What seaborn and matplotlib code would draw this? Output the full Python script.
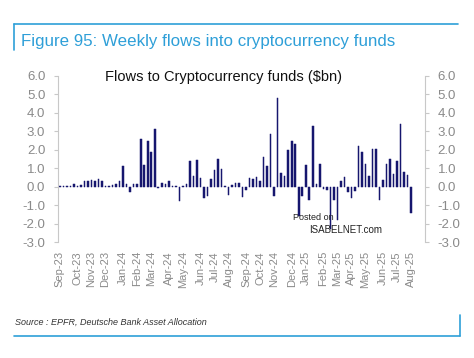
import numpy as np
import pandas as pd
import matplotlib.pyplot as plt
import seaborn as sns
from matplotlib.lines import Line2D

# -----------------------------
# DATA (weekly flows, $bn)
# -----------------------------
flows = [
    0.05, 0.05, 0.05, 0.05, 0.15, 0.05, 0.1, 0.3, 0.3, 0.35,
    0.3, 0.4, 0.3, 0.05, 0.05, 0.1, 0.15, 0.3, 1.1, 0.15,
    -0.3, 0.15, 0.15, 2.6, 1.15, 2.45, 1.85, 3.1, -0.1, 0.2,
    0.15, 0.3, 0.05, 0.05, -0.8, 0.05, 0.15, 1.4, 0.6, 1.45,
    0.45, -0.6, -0.5, 0.4, 0.9, 1.5, 0.95, 0.05, -0.45, 0.1,
    0.2, 0.2, -0.55, -0.2, 0.45, 0.4, 0.5, 0.3, 1.6, 1.1,
    2.85, -0.5, 4.8, 0.75, 0.6, 2.0, 2.45, 2.3, -1.6, -0.5,
    1.15, -0.7, 3.3, 0.15, 1.2, -0.15, -0.2, -2.3, -0.7, -1.8,
    0.3, 0.5, -0.3, -0.6, -0.25, 2.2, 1.9, 1.2, 0.6, 2.05,
    2.05, -0.75, 0.35, 1.25, 1.5, 0.7, 1.4, 3.4, 0.8, 0.65,
    -1.45,
]
weeks = pd.date_range("2023-09-01", periods=len(flows), freq="W-FRI")
y_ticks = [-3.0, -2.0, -1.0, 0.0, 1.0, 2.0, 3.0, 4.0, 5.0, 6.0]

df = pd.DataFrame({"week": np.arange(len(flows)), "flow": flows, "date": weeks})

# first week of each month -> tick position
month_key = df["date"].dt.to_period("M")
first_idx = df.groupby(month_key)["week"].min()
tick_pos = first_idx.values
tick_lab = [p.strftime("%b-%y") for p in first_idx.index]

# -----------------------------
# STYLE
# -----------------------------
sns.set_style("white")
plt.rcParams["font.family"] = ["Liberation Sans", "DejaVu Sans"]

BAR = "#16166e"
GREY = "#8a8a8a"
SPINE = "#c8c8c8"
BLUE = "#2e9fd8"

fig = plt.figure(figsize=(4.74, 3.58), dpi=100)
ax = fig.add_axes([0.122, 0.324, 0.775, 0.464])

sns.barplot(data=df, x="week", y="flow", color=BAR, width=0.45,
            saturation=1, edgecolor=BAR, linewidth=0.35, ax=ax)

ax.set_ylim(-3, 6)
ax.set_xlim(-0.6, 104)
ax.set_yticks(y_ticks)
ax.set_yticklabels([f"{v:.1f}" for v in y_ticks])
ax.set_xticks(tick_pos)
ax.set_xticklabels(tick_lab, rotation=90)
ax.set_xlabel("")
ax.set_ylabel("")

for s in ["top", "bottom"]:
    ax.spines[s].set_visible(False)
for s in ["left", "right"]:
    ax.spines[s].set_visible(True)
    ax.spines[s].set_color(SPINE)
    ax.spines[s].set_linewidth(0.8)

ax.tick_params(axis="y", left=True, right=True, labelleft=True, labelright=True,
               direction="out", length=3, color=SPINE, labelsize=9.5,
               labelcolor=GREY, pad=6)
ax.tick_params(axis="x", bottom=False, labelsize=8, labelcolor=GREY, pad=3)

ax.set_title("Flows to Cryptocurrency funds ($bn)", fontsize=10.5,
             color="#111111", pad=-4, loc="center", x=0.45)

# watermark text
fig.text(0.618, 0.385, "Posted on", fontsize=6.5, color="#222222")
fig.text(0.652, 0.35, "ISABELNET.com", fontsize=7, color="#222222")

# -----------------------------
# FRAME, TITLE, SOURCE
# -----------------------------
fig.add_artist(Line2D([0.03, 0.967], [0.934, 0.934], color=BLUE, lw=1.2))
fig.add_artist(Line2D([0.03, 0.03], [0.934, 0.86], color=BLUE, lw=1.2))
fig.text(0.045, 0.885, "Figure 95: Weekly flows into cryptocurrency funds",
         fontsize=12.2, color=BLUE, va="center")

fig.add_artist(Line2D([0.03, 0.97], [0.062, 0.062], color=BLUE, lw=1.2))
fig.add_artist(Line2D([0.97, 0.97], [0.062, 0.12], color=BLUE, lw=1.2))
fig.text(0.032, 0.1, "Source : EPFR, Deutsche Bank Asset Allocation",
         fontsize=6.5, color="#333333", style="italic", va="center")

fig.savefig("out.png", dpi=100)
